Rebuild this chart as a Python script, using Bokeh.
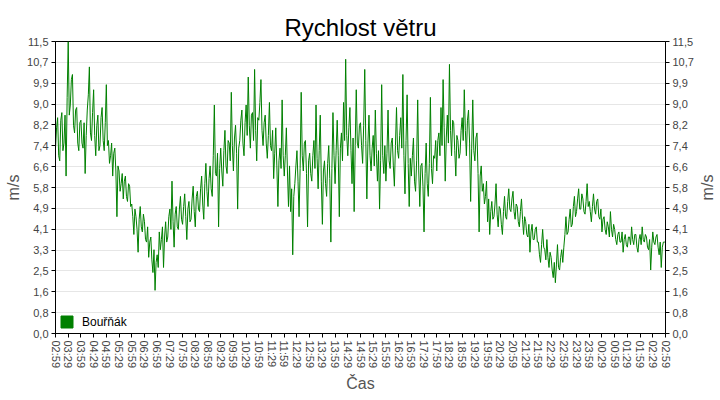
import math
from bokeh.plotting import figure
from bokeh.models import (FixedTicker, LinearAxis, Range1d, Legend, LegendItem,
                          ColumnDataSource, Label)
from bokeh.embed import file_html
from bokeh.resources import INLINE

# ---------------- data ----------------
title_text = "Rychlost větru"
series_name = "Bouřňák"
x_title = "Čas"
y_title = "m/s"

time_labels = ["02:59", "03:29", "03:59", "04:29", "04:59", "05:29", "05:59",
               "06:29", "06:59", "07:29", "07:59", "08:29", "08:59", "09:29",
               "09:59", "10:29", "10:59", "11:29", "11:59", "12:29", "12:59",
               "13:29", "13:59", "14:29", "14:59", "15:29", "15:59", "16:29",
               "16:59", "17:29", "17:59", "18:29", "18:59", "19:29", "19:59",
               "20:29", "20:59", "21:29", "21:59", "22:29", "22:59", "23:29",
               "23:59", "00:29", "00:59", "01:29", "01:59", "02:29", "02:59"]
label_step_min = 30          # minutes between time labels
sample_step_min = 2.5        # minutes between samples

y_tick_labels = ["0,0", "0,8", "1,6", "2,5", "3,3", "4,1", "4,9", "5,8",
                 "6,6", "7,4", "8,2", "9,0", "9,9", "10,7", "11,5"]
y_max = 11.5

# wind speed [m/s], one value every 2.5 minutes from 02:59 (one row per hour)
wind = [
    7.3, 8.1, 8.5, 7.0, 6.8, 8.4, 8.7, 7.2, 7.5, 8.6, 6.2, 9.3, 11.5, 8.6, 9.0, 10.0, 10.2, 8.2, 7.9, 8.8, 8.9, 7.5, 7.2, 8.3,
    8.4, 7.5, 7.3, 8.3, 6.3, 7.8, 8.8, 9.4, 10.5, 7.9, 7.6, 8.7, 9.6, 7.8, 7.0, 8.2, 8.6, 7.2, 7.4, 8.5, 8.9, 7.6, 7.2, 8.3,
    9.8, 7.4, 7.6, 6.7, 7.0, 7.5, 6.2, 7.1, 7.3, 6.4, 4.6, 6.6, 6.4, 5.6, 5.9, 6.3, 5.3, 6.0, 6.2, 5.4, 5.2, 5.9, 5.8, 5.0,
    5.1, 4.6, 3.9, 4.9, 4.6, 4.1, 3.2, 4.5, 5.0, 4.2, 4.0, 4.7, 4.4, 3.7, 3.6, 4.2, 3.0, 3.6, 3.8, 2.9, 2.4, 3.3, 1.7, 2.8,
    3.1, 2.6, 4.0, 3.3, 3.7, 4.2, 2.6, 3.8, 4.4, 3.6, 3.8, 4.6, 4.9, 4.1, 6.0, 4.4, 3.4, 4.7, 5.0, 4.2, 4.1, 4.9, 5.4, 4.5,
    4.3, 5.0, 5.5, 4.6, 3.7, 4.9, 5.2, 4.4, 4.5, 5.3, 5.8, 4.8, 4.2, 5.4, 5.6, 4.9, 4.8, 5.7, 6.2, 5.1, 4.5, 5.9, 6.7, 5.6,
    5.0, 6.1, 6.6, 5.7, 5.4, 7.0, 9.0, 6.3, 6.2, 7.1, 4.2, 6.5, 7.3, 6.4, 5.8, 7.2, 8.0, 6.6, 6.3, 7.6, 7.5, 6.8, 9.5, 7.4,
    6.4, 7.7, 8.2, 7.1, 4.9, 7.3, 7.6, 8.4, 8.8, 7.5, 7.0, 8.3, 9.0, 7.8, 10.1, 8.2, 7.3, 8.6, 8.7, 7.6, 10.4, 8.0, 6.8, 8.5,
    8.4, 9.1, 10.0, 8.0, 7.4, 8.3, 8.6, 7.5, 6.9, 7.8, 9.1, 7.4, 7.2, 8.0, 6.1, 7.1, 8.1, 6.6, 5.0, 6.8, 7.3, 6.5, 9.2, 7.0,
    6.2, 7.0, 8.1, 6.4, 5.0, 6.6, 4.8, 5.7, 3.1, 5.4, 5.9, 6.6, 7.2, 6.0, 4.6, 6.5, 9.5, 7.0, 6.4, 7.5, 7.6, 6.3, 4.2, 6.8,
    7.1, 6.3, 6.0, 7.0, 7.6, 6.5, 9.0, 6.9, 5.7, 7.2, 8.6, 6.0, 4.3, 6.4, 6.8, 5.9, 5.4, 6.7, 7.4, 6.1, 3.6, 6.5, 8.7, 7.0,
    5.9, 7.2, 8.4, 7.0, 4.6, 7.3, 7.9, 6.8, 9.1, 7.6, 10.8, 7.8, 7.0, 8.1, 8.9, 7.2, 5.9, 7.7, 4.8, 7.4, 9.6, 7.5, 7.3, 8.2,
    8.3, 7.4, 6.7, 8.2, 10.4, 7.6, 5.3, 7.5, 8.6, 7.0, 6.4, 7.3, 7.8, 6.6, 8.8, 7.1, 6.0, 7.2, 4.9, 6.8, 9.8, 7.0, 6.3, 7.4,
    6.0, 7.1, 8.8, 6.8, 6.5, 7.5, 7.7, 6.6, 5.8, 7.4, 8.9, 7.2, 6.9, 7.8, 8.5, 7.3, 10.2, 7.0, 5.5, 7.6, 9.4, 6.7, 5.0, 6.9,
    6.2, 7.0, 7.7, 6.0, 5.6, 6.8, 9.2, 6.4, 5.0, 6.6, 6.7, 5.8, 4.0, 6.3, 7.5, 5.9, 5.4, 6.7, 9.3, 6.5, 5.9, 7.0, 6.9, 7.6,
    6.4, 7.6, 7.9, 7.0, 8.9, 7.4, 10.0, 8.1, 6.0, 7.7, 8.6, 7.5, 10.6, 8.0, 7.0, 8.4, 8.3, 7.2, 6.2, 7.8, 7.6, 6.9, 7.1, 8.0,
    8.5, 7.6, 9.6, 8.0, 7.0, 8.4, 8.8, 7.5, 5.2, 7.3, 9.2, 7.2, 6.8, 7.7, 7.9, 6.3, 4.0, 6.2, 6.6, 5.6, 5.9, 5.1, 5.4, 6.0,
    4.4, 5.3, 3.9, 4.8, 5.2, 4.5, 4.6, 5.1, 5.9, 4.7, 4.2, 5.0, 4.9, 4.3, 3.9, 4.8, 5.4, 4.6, 4.5, 5.2, 5.7, 4.9, 4.8, 5.3,
    5.6, 4.8, 4.5, 5.1, 5.0, 4.4, 4.2, 4.8, 5.3, 4.5, 3.9, 4.6, 4.4, 3.9, 3.8, 4.3, 3.2, 4.0, 4.3, 3.7, 3.7, 4.1, 4.2, 3.6,
    3.6, 3.1, 2.8, 3.5, 4.1, 3.4, 3.3, 2.9, 3.7, 3.0, 2.6, 3.2, 3.0, 2.5, 2.2, 2.8, 2.0, 2.7, 3.5, 2.6, 2.5, 3.0, 3.3, 2.8,
    3.4, 3.9, 4.6, 3.9, 4.0, 4.5, 4.9, 4.2, 4.3, 5.0, 5.4, 4.6, 4.8, 5.3, 5.7, 4.9, 4.9, 5.5, 5.3, 4.8, 4.7, 5.2, 5.9, 5.0,
    5.2, 4.8, 4.4, 5.0, 5.5, 4.9, 4.7, 5.2, 5.3, 4.6, 4.5, 4.9, 4.0, 4.5, 4.6, 4.1, 3.9, 4.4, 4.2, 3.8, 4.8, 4.1, 3.8, 4.3,
    4.1, 3.7, 3.5, 3.9, 4.0, 3.6, 3.6, 4.0, 3.2, 3.7, 3.9, 3.5, 3.4, 3.8, 3.8, 3.5, 4.2, 3.7, 3.5, 3.9, 3.9, 3.4, 3.2, 3.7,
    3.9, 3.5, 4.2, 3.7, 3.6, 3.9, 3.8, 3.4, 3.3, 3.7, 2.5, 3.4, 4.0, 3.6, 3.5, 3.8, 3.9, 3.4, 3.1, 3.6, 2.6, 3.4, 3.6, 3.6,
    3.6,
]

# ---------------- derived ----------------
minutes = [i * sample_step_min for i in range(len(wind))]
x_ticks = [i * label_step_min for i in range(len(time_labels))]
y_ticks = [i * y_max / (len(y_tick_labels) - 1) for i in range(len(y_tick_labels))]
x_over = {t: lab for t, lab in zip(x_ticks, time_labels)}
y_over = {t: lab for t, lab in zip(y_ticks, y_tick_labels)}

FONT = "Liberation Sans"
GREEN = "#008000"
TICK_COLOR = "#444444"
AXIS_TITLE_COLOR = "#555555"

p = figure(width=720, height=400, output_backend="svg", toolbar_location=None,
           x_range=Range1d(0, x_ticks[-1]), y_range=Range1d(0, y_max),
           min_border_left=55, min_border_right=55, min_border_top=41,
           min_border_bottom=67)

p.title.text = title_text
p.title.align = "center"
p.title.text_font = FONT
p.title.text_font_size = "24px"
p.title.text_font_style = "normal"
p.title.text_color = "black"
p.title.standoff = 2

p.outline_line_color = "black"
p.outline_line_alpha = 1.0
p.background_fill_color = "white"
p.border_fill_color = "white"

src = ColumnDataSource(dict(x=minutes, y=wind))
p.line("x", "y", source=src, line_color=GREEN, line_width=1)

# legend marker (square); renderer holds no visible data
nan = float("nan")
sq = p.quad(left=[nan], right=[nan], top=[nan], bottom=[nan],
            fill_color=GREEN, line_color=GREEN)
legend = Legend(items=[LegendItem(label=series_name, renderers=[sq])],
                location="bottom_left", border_line_color=None,
                background_fill_alpha=0, label_text_font=FONT,
                label_text_font_size="12px", label_text_color="black",
                glyph_width=15, glyph_height=15, margin=4, padding=4,
                label_standoff=8)
p.add_layout(legend)

p.xgrid.visible = False
p.ygrid.grid_line_color = "#e6e6e6"
p.ygrid.ticker = FixedTicker(ticks=y_ticks)


def style_axis(ax):
    ax.axis_line_color = "black"
    ax.major_tick_line_color = "black"
    ax.minor_tick_line_color = None
    ax.major_tick_in = 0
    ax.major_tick_out = 4
    ax.major_label_text_font = FONT
    ax.major_label_text_font_size = "11px"
    ax.major_label_text_color = TICK_COLOR
    ax.axis_label_text_font = FONT
    ax.axis_label_text_font_size = "16px"
    ax.axis_label_text_font_style = "normal"
    ax.axis_label_text_color = AXIS_TITLE_COLOR


xa = p.xaxis[0]
xa.ticker = FixedTicker(ticks=x_ticks)
xa.major_label_overrides = x_over
xa.major_label_orientation = "vertical"
xa.axis_label = x_title
xa.major_label_standoff = 3
xa.axis_label_standoff = 4
style_axis(xa)

ya = p.yaxis[0]
ya.ticker = FixedTicker(ticks=y_ticks)
ya.major_label_overrides = y_over
ya.axis_label = y_title
ya.major_label_standoff = 3
ya.axis_label_standoff = 2
style_axis(ya)

ra = LinearAxis(ticker=FixedTicker(ticks=y_ticks))
ra.major_label_overrides = y_over
ra.major_label_standoff = 3
style_axis(ra)
p.add_layout(ra, "right")

# right-hand axis title, reading bottom-to-top like the left one;
# placed in the right side panel so it is not clipped by the frame
right_title = Label(x=11, y=146, x_units="screen", y_units="screen",
                    text=y_title, angle=math.pi / 2, text_align="center",
                    text_baseline="middle", text_font=FONT,
                    text_font_size="16px", text_color=AXIS_TITLE_COLOR)
p.add_layout(right_title, "right")

open("out.html", "w").write(file_html(p, INLINE))
